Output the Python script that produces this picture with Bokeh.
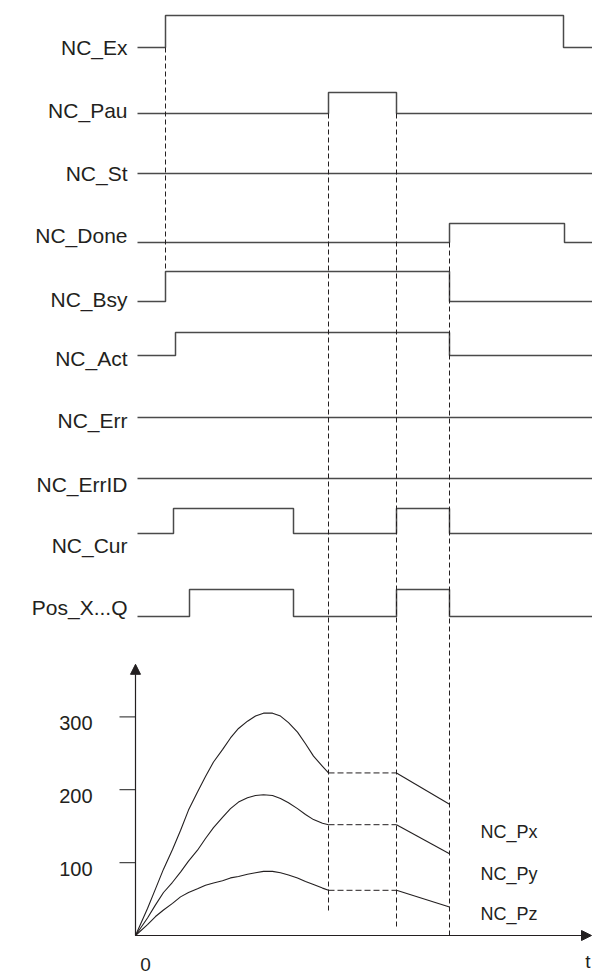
import numpy as np
from bokeh.plotting import figure
from bokeh.models import Range1d, Arrow, NormalHead
from bokeh.core.properties import value
from bokeh.embed import file_html
from bokeh.resources import INLINE

# ---------------- data ----------------
signal_names = ["NC_Ex", "NC_Pau", "NC_St", "NC_Done", "NC_Bsy",
                "NC_Act", "NC_Err", "NC_ErrID", "NC_Cur", "Pos_X...Q"]
# times at which each signal toggles (starts low)
ex_edges = [30, 428]
pau_edges = [193, 261]
st_edges = []
done_edges = [314, 429]
bsy_edges = [30, 314]
act_edges = [40, 314]
err_edges = []
errid_edges = []
cur_edges = [38, 158, 261, 314]
pos_edges = [54, 158, 261, 314]
all_edges = [ex_edges, pau_edges, st_edges, done_edges, bsy_edges,
             act_edges, err_edges, errid_edges, cur_edges, pos_edges]
t_begin = 2
t_end = 457

# event markers (dashed verticals)
event_t = [30, 193, 261, 314]

# position curves
curve_t = [0, 12, 20, 28, 37, 45, 53, 62, 70, 78, 87, 95, 103, 112, 120,
           128, 137, 145, 153, 162, 170, 178, 187, 193]
px_v = [0, 37, 64, 91, 118, 144, 172, 197, 218, 238, 255, 271, 284, 294, 301,
        305, 305, 301, 292, 279, 263, 246, 232, 223]
py_v = [0, 24, 42, 59, 73, 87, 102, 117, 133, 148, 162, 174, 183, 189, 192,
        193, 192, 188, 182, 174, 166, 159, 154, 152]
pz_v = [0, 15, 26, 35, 44, 53, 59, 64, 69, 72, 75, 79, 81, 84, 86,
        88, 88, 86, 83, 79, 74, 70, 65, 62]
pause_t = [193, 261]
resume_t = [261, 314]
px_end = 180
py_end = 112
pz_end = 39
curve_names = ["NC_Px", "NC_Py", "NC_Pz"]
y_ticks = [100, 200, 300]
y_tick_labels = ["100", "200", "300"]

# ---------------- layout ----------------
W, H = 592, 976
ORIGIN_X = 135          # px of t=0
ZERO_Y = 935            # px of value 0
PX_PER_UNIT = 0.729     # px per value unit
lane_base = [47, 113, 173, 242, 301, 355, 417, 478, 533, 616]
lane_amp = [32, 21, 20, 19, 30, 23, 20, 20, 25, 27]
label_y = [47, 110, 173, 235, 299, 358, 420, 484, 545, 607]
event_y0 = [47, 113, 113, 242]
event_y1 = [271, 912, 927, 938]
curve_label_y = [831, 873, 913]
y_axis_top = 372

INK = "#231f20"
SIG = "#4a4a4a"
FONT = value("Liberation Sans")

p = figure(width=W, height=H,
           x_range=Range1d(-ORIGIN_X, W - ORIGIN_X),
           y_range=Range1d((ZERO_Y - H) / PX_PER_UNIT, ZERO_Y / PX_PER_UNIT),
           output_backend="svg", toolbar_location=None, min_border=0,
           x_axis_type=None, y_axis_type=None, outline_line_color=None)
p.extra_y_ranges = {"lane": Range1d(start=H, end=0)}
p.xgrid.visible = False
p.ygrid.visible = False
p.background_fill_color = "white"
p.border_fill_color = "white"

# timing signals
for name, edges, base, amp in zip(signal_names, all_edges, lane_base, lane_amp):
    xs, ys = [t_begin], [base]
    state = 0
    for e in edges:
        xs += [e, e]
        ys += [base - amp * state, base - amp * (1 - state)]
        state = 1 - state
    xs.append(t_end)
    ys.append(base - amp * state)
    p.line(xs, ys, y_range_name="lane", line_color=SIG, line_width=1.5)

p.text(x=[-8] * len(signal_names), y=label_y, text=signal_names, y_range_name="lane",
       text_font=FONT, text_font_size="21px", text_align="right",
       text_baseline="middle", text_color=INK)

# dashed event lines
p.segment(x0=event_t, y0=event_y0, x1=event_t, y1=event_y1, y_range_name="lane",
          line_color=INK, line_width=1, line_dash="5 3")

# position curves
for vv, ve in [(px_v, px_end), (py_v, py_end), (pz_v, pz_end)]:
    p.line(curve_t, vv, line_color=INK, line_width=1.1, line_join="round")
    p.line(pause_t, [vv[-1], vv[-1]], line_color=INK, line_width=1, line_dash="6 3")
    p.line(resume_t, [vv[-1], ve], line_color=INK, line_width=1.1)

p.text(x=[345] * 3, y=curve_label_y, text=curve_names, y_range_name="lane",
       text_font=FONT, text_font_size="18px", text_align="left",
       text_baseline="middle", text_color=INK)

# axes
p.add_layout(Arrow(end=NormalHead(size=10, fill_color=INK, line_color=INK),
                   x_start=0, y_start=0, x_end=0, y_end=y_axis_top,
                   line_color=INK, line_width=1.2))
p.add_layout(Arrow(end=NormalHead(size=10, fill_color=INK, line_color=INK),
                   x_start=0, y_start=0, x_end=t_end - 1, y_end=0,
                   line_color=INK, line_width=1.2))
p.segment(x0=[-16] * len(y_ticks), y0=y_ticks, x1=[0] * len(y_ticks), y1=y_ticks,
          line_color=SIG, line_width=1.2)
p.text(x=[-43] * len(y_ticks), y=y_ticks, text=y_tick_labels, y_offset=6,
       text_font=FONT, text_font_size="20px", text_align="right",
       text_baseline="middle", text_color=INK)
p.text(x=[10], y=[0], text=["0"], y_offset=29,
       text_font=FONT, text_font_size="19px", text_align="center",
       text_baseline="middle", text_color=INK)
p.text(x=[t_end - 2], y=[0], text=["t"], y_offset=26,
       text_font=FONT, text_font_size="19px", text_align="right",
       text_baseline="middle", text_color=INK)

open("out.html", "w").write(file_html(p, INLINE))
